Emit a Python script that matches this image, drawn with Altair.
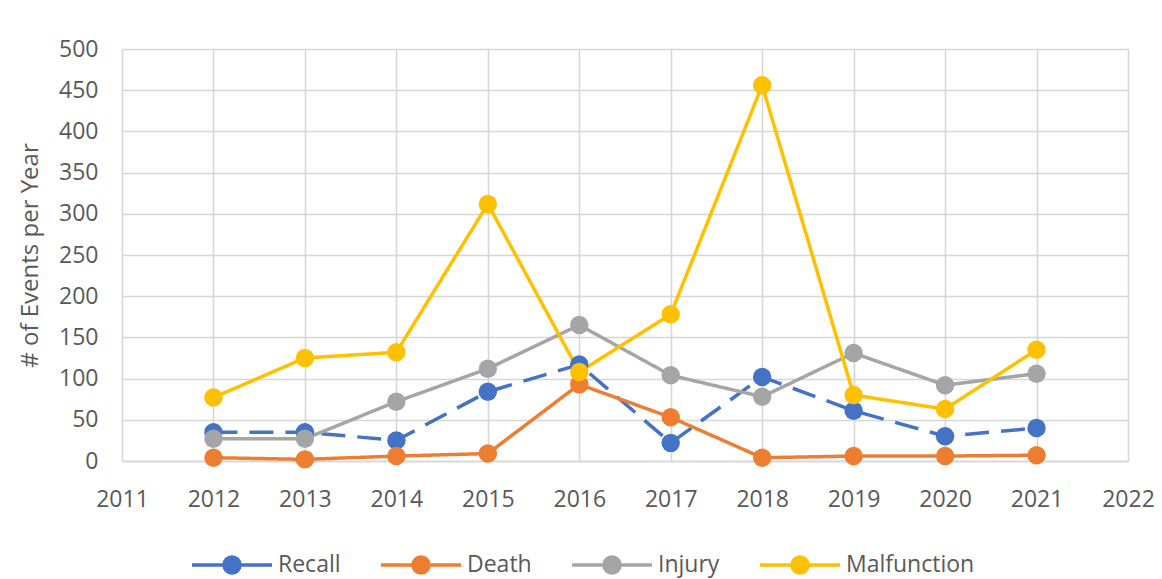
import altair as alt
import pandas as pd

# Annual event counts per category
years = [2012, 2013, 2014, 2015, 2016, 2017, 2018, 2019, 2020, 2021]
recall = [35, 35, 25, 84, 117, 22, 102, 61, 30, 40]
death = [4, 2, 6, 9, 93, 53, 4, 6, 6, 7]
injury = [27, 27, 72, 112, 165, 104, 78, 131, 92, 106]
malfunction = [77, 125, 132, 312, 108, 178, 456, 80, 63, 135]

series_names = ["Recall", "Death", "Injury", "Malfunction"]
series_colors = ["#4472C4", "#ED7D31", "#A5A5A5", "#FFC000"]
line_styles = ["dashed", "solid", "solid", "solid"]

x_ticks = list(range(2011, 2023))
y_ticks = list(range(0, 501, 50))

rows = []
for name, style, vals in zip(series_names, line_styles, [recall, death, injury, malfunction]):
    for yr, v in zip(years, vals):
        rows.append({"Year": yr, "Series": name, "Style": style, "Events": v})
df = pd.DataFrame(rows)

FONT = "Open Sans"
TEXT = "#595959"
GRID = "#D6D6D6"

x_enc = alt.X(
    "Year:Q",
    scale=alt.Scale(domain=[2011, 2022], nice=False, zero=False),
    axis=alt.Axis(
        values=x_ticks, format="d", title=None, ticks=False,
        labelFontSize=23, labelColor=TEXT, labelFont=FONT, labelPadding=27,
        grid=True, gridColor=GRID, gridWidth=1.6,
        domainColor=GRID, domainWidth=1.6, labelFlush=False,
    ),
)
y_enc = alt.Y(
    "Events:Q",
    scale=alt.Scale(domain=[0, 500], nice=False),
    axis=alt.Axis(
        values=y_ticks, title="# of Events per Year", ticks=False, domain=False,
        labelFontSize=23, labelColor=TEXT, labelFont=FONT, labelPadding=24,
        grid=True, gridColor=GRID, gridWidth=1.6,
        titleFontSize=24, titleColor=TEXT, titleFont=FONT, titleFontWeight="normal",
        titleX=-92, titleY=206, titleAlign="center", titleBaseline="middle", titleAngle=-90,
    ),
)

# legend symbol: a short line with a dot in the middle
legend_path = "M-1,0L1,0M0.2,0A0.2,0.2,0,1,1,-0.2,0A0.2,0.2,0,1,1,0.2,0Z"

color_enc = alt.Color(
    "Series:N",
    scale=alt.Scale(domain=series_names, range=series_colors),
    sort=series_names,
    legend=alt.Legend(
        title=None, orient="none", direction="horizontal", columns=4,
        legendX=68, legendY=474,
        symbolType=legend_path, symbolSize=6400, symbolStrokeWidth=3.5,
        labelFontSize=23, labelColor=TEXT, labelFont=FONT, labelOffset=4,
        columnPadding=33,
    ),
)

lines = alt.Chart(df).mark_line(strokeWidth=3.5).encode(
    x=x_enc, y=y_enc, color=color_enc, detail="Series:N",
    strokeDash=alt.StrokeDash(
        "Style:N",
        scale=alt.Scale(domain=["dashed", "solid"], range=[[24, 12], [1, 0]]),
        legend=None,
    ),
)

points = alt.Chart(df).mark_point(filled=True, size=340, opacity=1).encode(
    x=x_enc, y=y_enc, color=color_enc,
)

chart = (
    alt.layer(lines, points)
    .properties(
        width=1006, height=412,
        autosize=alt.AutoSizeParams(type="none"),
        padding={"left": 122, "top": 49, "right": 34, "bottom": 118},
        background="white",
    )
    .configure_view(stroke=None)
)

chart.save("out.html", embed_options={"renderer": "svg", "actions": False})
